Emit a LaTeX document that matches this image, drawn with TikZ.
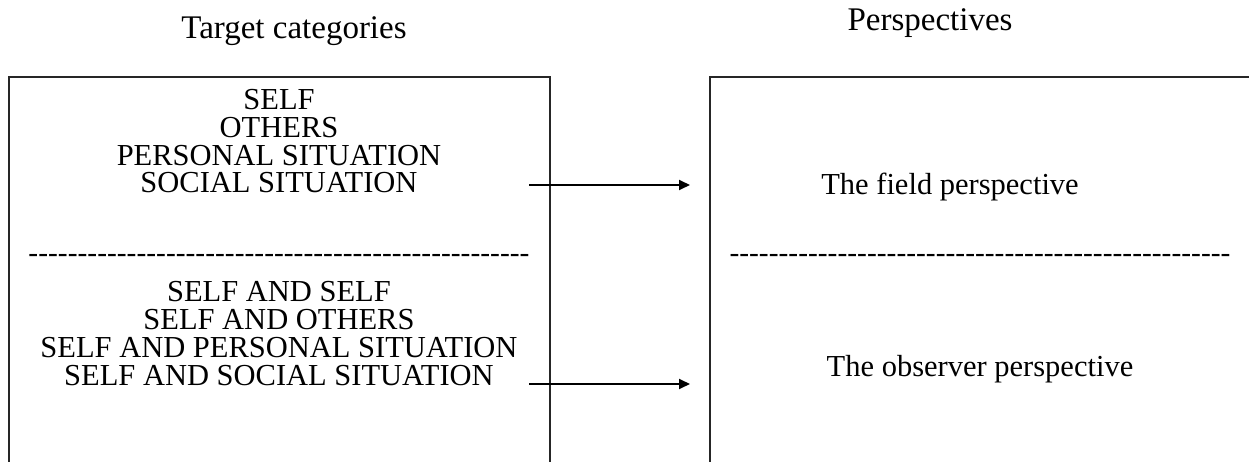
\documentclass[tikz,border=0pt]{standalone}
\usepackage{fontspec}
\setmainfont{Liberation Serif}
\usetikzlibrary{arrows.meta}
% a row of plain hyphens, kept apart so they are not joined into dashes
\newcommand\hyphenrow{\foreach \k in {1,...,51}{-{}}}
\begin{document}
\begin{tikzpicture}[x=1pt,y=-1pt,
  panel/.style={line width=1.3pt,draw=black!85},
  title/.style={font=\fontsize{33}{36}\selectfont,inner sep=0pt},
  body/.style={font=\fontsize{30.5}{27.7}\selectfont,align=center,inner sep=0pt},
  rule/.style={font=\fontsize{29.5}{30}\selectfont,inner sep=0pt},
  link/.style={line width=1.8pt,-{Triangle[length=11pt,width=10pt]}}]
  \useasboundingbox (0,0) rectangle (1249,462);
  % open-bottomed panels
  \draw[panel] (9,462) -- (9,77) -- (550,77) -- (550,462);
  \draw[panel] (710,462) -- (710,77) -- (1249,77);
  % headings
  \node[title] (ht) at (294,31) {Target categories};
  \node[title] (hp) at (930,23) {Perspectives};
  % target categories
  \node[body] (single) at (279,141.5) {SELF\\OTHERS\\PERSONAL SITUATION\\SOCIAL SITUATION};
  \node[rule] (ruleL) at (279,258) {\hyphenrow};
  \node[body] (pairs) at (279,333.5) {SELF AND SELF\\SELF AND OTHERS\\SELF AND PERSONAL SITUATION\\SELF AND SOCIAL SITUATION};
  % perspectives
  \node[body,anchor=base] (field) at (950,195) {The field perspective};
  \node[rule] (ruleR) at (980,258) {\hyphenrow};
  \node[body,anchor=base] (observer) at (980,376) {The observer perspective};
  % links
  \coordinate (s1) at (529,185);
  \coordinate (e1) at (690,185);
  \coordinate (s2) at (529,384);
  \coordinate (e2) at (690,384);
  \draw[link] (s1) -- (e1);
  \draw[link] (s2) -- (e2);
\end{tikzpicture}
\end{document}
